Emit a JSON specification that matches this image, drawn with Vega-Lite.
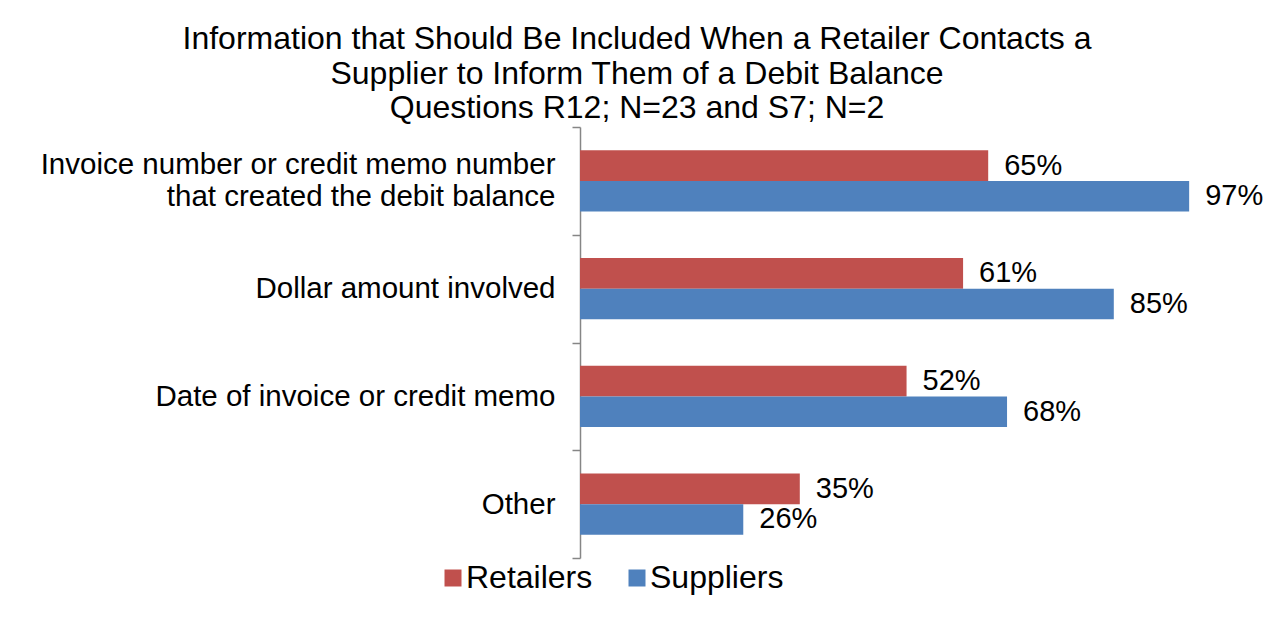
{
  "$schema": "https://vega.github.io/schema/vega-lite/v6.json",
  "width": 628,
  "height": 431,
  "autosize": {"type": "none"},
  "padding": {"left": 580, "top": 127, "right": 64, "bottom": 59},
  "background": "white",
  "title": {
    "text": ["Information that Should Be Included When a Retailer Contacts a", "Supplier to Inform Them of a Debit Balance", "Questions R12; N=23 and S7; N=2"],
    "font": "Liberation Sans",
    "fontSize": 32,
    "fontWeight": "normal",
    "color": "black",
    "lineHeight": 34.5,
    "anchor": "middle",
    "dx": -257,
    "offset": -13
  },
  "data": {
    "values": [
      {"item": "Invoice number or credit memo number|that created the debit balance", "group": "Retailers", "value": 0.65},
      {"item": "Invoice number or credit memo number|that created the debit balance", "group": "Suppliers", "value": 0.97},
      {"item": "Dollar amount involved", "group": "Retailers", "value": 0.61},
      {"item": "Dollar amount involved", "group": "Suppliers", "value": 0.85},
      {"item": "Date of invoice or credit memo", "group": "Retailers", "value": 0.52},
      {"item": "Date of invoice or credit memo", "group": "Suppliers", "value": 0.68},
      {"item": "Other", "group": "Retailers", "value": 0.35},
      {"item": "Other", "group": "Suppliers", "value": 0.26}
    ]
  },
  "encoding": {
    "y": {
      "field": "item",
      "type": "nominal",
      "sort": ["Invoice number or credit memo number|that created the debit balance", "Dollar amount involved", "Date of invoice or credit memo", "Other"],
      "scale": {"paddingInner": 0, "paddingOuter": 0},
      "axis": {
        "title": null,
        "labelFont": "Liberation Sans",
        "labelFontSize": 29.5,
        "labelColor": "black",
        "labelLimit": 1000,
        "labelPadding": 17,
        "labelExpr": "split(datum.label, '|')",
        "labelLineHeight": 32,
        "labelOffset": {"condition": {"test": "datum.value === 'Invoice number or credit memo number|that created the debit balance'", "value": -16}, "value": 0},
        "tickSize": 8,
        "tickColor": "#868686",
        "tickWidth": 1.5,
        "domainColor": "#868686",
        "domainWidth": 1.5,
        "tickBand": "extent",
        "grid": false
      }
    },
    "yOffset": {"field": "group", "type": "nominal", "sort": ["Retailers", "Suppliers"], "scale": {"paddingInner": 0, "paddingOuter": 0.766}},
    "x": {"field": "value", "type": "quantitative", "scale": {"domain": [0, 1], "nice": false}, "axis": null}
  },
  "layer": [
    {
      "mark": {"type": "bar"},
      "encoding": {
        "color": {
          "field": "group",
          "type": "nominal",
          "scale": {"domain": ["Retailers", "Suppliers"], "range": ["#C0504D", "#4F81BD"]},
          "legend": {
            "orient": "none",
            "legendX": -143,
            "legendY": 435,
            "direction": "horizontal",
            "title": null,
            "padding": 0,
            "symbolType": "square",
            "symbolSize": 289,
            "symbolStrokeWidth": 0,
            "labelFont": "Liberation Sans",
            "labelFontSize": 32,
            "labelColor": "black",
            "labelOffset": -3,
            "columnPadding": 28
          }
        }
      }
    },
    {
      "mark": {"type": "text", "align": "left", "baseline": "middle", "dx": 16, "font": "Liberation Sans", "fontSize": 29, "color": "black"},
      "encoding": {"text": {"field": "value", "type": "quantitative", "format": ".0%"}}
    }
  ],
  "config": {"view": {"stroke": null}}
}
